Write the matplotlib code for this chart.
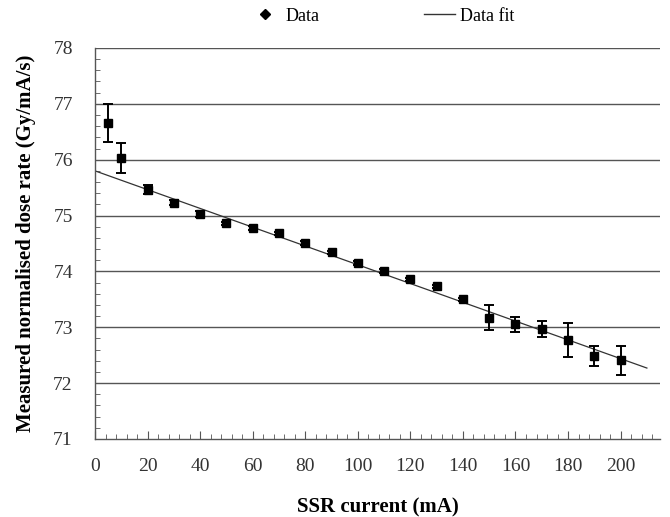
import numpy as np
import matplotlib.pyplot as plt
from matplotlib.lines import Line2D
from matplotlib.ticker import MultipleLocator

plt.rcParams['font.family'] = ['Liberation Serif', 'DejaVu Serif']

# measured points
current = [5, 10, 20, 30, 40, 50, 60, 70, 80, 90, 100, 110, 120, 130, 140,
           150, 160, 170, 180, 190, 200]
dose_rate = [76.65, 76.03, 75.46, 75.23, 75.03, 74.86, 74.78, 74.68, 74.51,
             74.34, 74.15, 74.01, 73.86, 73.73, 73.50, 73.17, 73.05, 72.97,
             72.77, 72.48, 72.41]
err = [0.34, 0.27, 0.08, 0.04, 0.06, 0.03, 0.03, 0.03, 0.03, 0.03, 0.03,
       0.03, 0.03, 0.03, 0.03, 0.22, 0.14, 0.15, 0.30, 0.18, 0.26]

# linear fit end points
fit_x = [0, 210]
fit_y = [75.80, 72.27]

fig = plt.figure(figsize=(6.7, 5.17), dpi=100)
ax = fig.add_axes([0.1418, 0.1509, 0.8433, 0.7563])

for yv in range(72, 79):
    ax.axhline(yv, color='#555555', lw=1.0, zorder=1)

ax.plot(fit_x, fit_y, color='#333333', lw=0.9, zorder=2)
ax.errorbar(current, dose_rate, yerr=err, fmt='s', color='black', ms=6,
            elinewidth=1.4, capsize=3.5, capthick=1.4, zorder=3)

ax.set_xlim(0, 215)
ax.set_ylim(71, 78)
ax.xaxis.set_major_locator(MultipleLocator(20))
ax.xaxis.set_minor_locator(MultipleLocator(4))
ax.yaxis.set_major_locator(MultipleLocator(1))
ax.yaxis.set_minor_locator(MultipleLocator(0.2))
ax.set_xticks(np.arange(0, 201, 20))

for s in ['top', 'right']:
    ax.spines[s].set_visible(False)
for s in ['left', 'bottom']:
    ax.spines[s].set_color('#555555')
    ax.spines[s].set_linewidth(1.0)

ax.tick_params(axis='x', which='major', direction='in', length=6,
               color='#555555', labelsize=14, pad=14)
ax.tick_params(axis='x', which='minor', direction='in', length=3.5,
               color='#555555')
ax.tick_params(axis='y', which='major', direction='in', length=0,
               labelsize=14, pad=16)
ax.tick_params(axis='y', which='minor', direction='in', length=3.5,
               color='#555555')
for lab in ax.get_xticklabels() + ax.get_yticklabels():
    lab.set_color('#333333')

ax.set_xlabel('SSR current (mA)', fontsize=15, fontweight='bold', labelpad=16)
ax.set_ylabel('Measured normalised dose rate (Gy/mA/s)', fontsize=15,
              fontweight='bold', labelpad=12)

handles = [Line2D([], [], ls='none', marker='D', ms=5, color='black'),
           Line2D([], [], color='#333333', lw=1.0)]
fig.legend(handles, ['Data', 'Data fit'], loc='center',
           bbox_to_anchor=(0.57, 0.969), ncol=2, frameon=False,
           fontsize=13, handlelength=1.7, handletextpad=0.3,
           columnspacing=5.8)

fig.savefig('out.png', dpi=100)
